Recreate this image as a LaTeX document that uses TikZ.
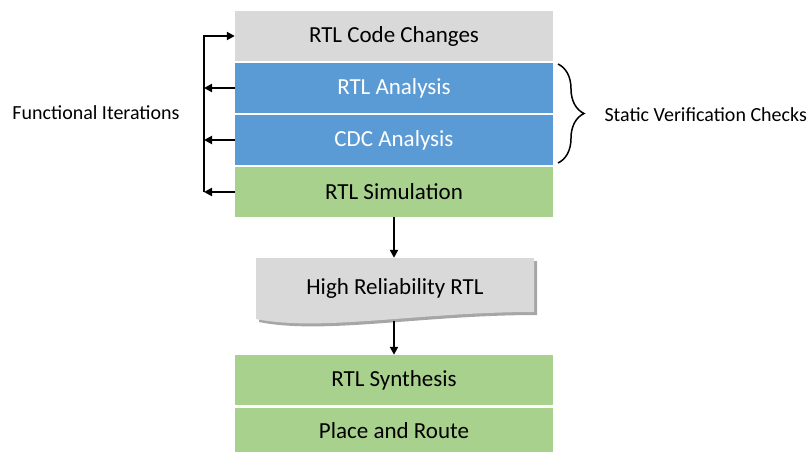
\documentclass[tikz,border=0pt]{standalone}
\usepackage{fontspec}
\setmainfont{Carlito}
\usetikzlibrary{arrows.meta,decorations.pathreplacing}

\definecolor{codegray}{HTML}{D9D9D9}
\definecolor{checkblue}{HTML}{5B9BD5}
\definecolor{flowgreen}{HTML}{A9D18E}
\definecolor{shadowgray}{HTML}{A6A6A6}

\tikzset{
  stage/.style={minimum width=318, minimum height=50, inner sep=0pt, text=black,
    font=\fontsize{23}{27}\selectfont},
  sidelabel/.style={font=\fontsize{20}{24}\selectfont},
  arr/.style={line width=2pt, -{Triangle[length=8pt, width=8pt]}},
}

\begin{document}
\begin{tikzpicture}[x=1pt, y=-1pt]
\useasboundingbox (0,0) rectangle (811,452);

% Flow stages
\node[stage, fill=codegray] (code) at (394,36) {RTL Code Changes};
\node[stage, fill=checkblue, text=white] (rtla) at (394,88) {RTL Analysis};
\node[stage, fill=checkblue, text=white] (cdc) at (394,140) {CDC Analysis};
\node[stage, fill=flowgreen] (sim) at (394,192) {RTL Simulation};
\node[stage, fill=flowgreen] (synth) at (394,380) {RTL Synthesis};
\node[stage, fill=flowgreen, minimum height=46] (pnr) at (394,431) {Place and Route};

% Document shape
\fill[shadowgray, shift={(3,3)}] (256,258) -- (534,258) -- (534,312)
  .. controls (420,312) and (320,332) .. (256,319) -- cycle;
\fill[codegray] (256,258) -- (534,258) -- (534,312)
  .. controls (420,312) and (320,332) .. (256,319) -- cycle;
\node[stage, minimum width=278, minimum height=60] (hrr) at (395,288) {High Reliability RTL};
\coordinate (hrrbot) at (394,321);

\draw[arr] (sim.south) -- (sim.south |- hrr.north);
\draw[arr] (hrrbot) -- (synth.north);

% Functional iterations loop
\coordinate (iterbot) at (204,192);
\draw[arr] (iterbot) |- (code.west);
\draw[arr] (rtla.west) -- (rtla.west -| iterbot);
\draw[arr] (cdc.west) -- (cdc.west -| iterbot);
\draw[arr] (sim.west) -- (iterbot);
\node[sidelabel] (iter) at (96,113) {Functional Iterations};

% Static checks
\draw[line width=1.5pt, decorate, decoration={brace, amplitude=26pt}] (558,64) -- (558,163);
\node[sidelabel, anchor=west] (svc) at (601,115) {Static Verification Checks};
\end{tikzpicture}
\end{document}
